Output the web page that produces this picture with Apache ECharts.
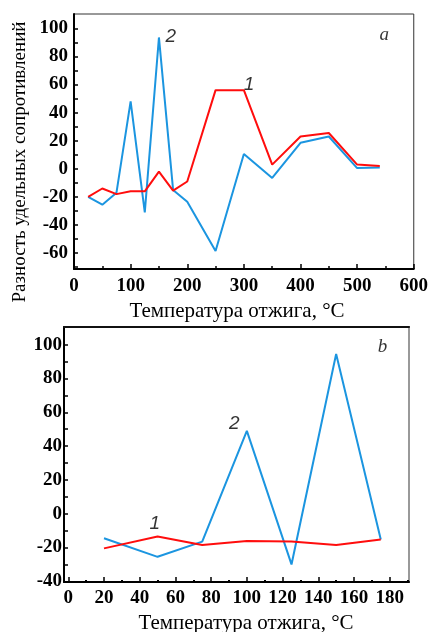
<!DOCTYPE html>
<html>
<head>
<meta charset="utf-8">
<script src="https://cdn.jsdelivr.net/npm/echarts@6/dist/echarts.min.js"></script>
<style>
  html, body { margin: 0; padding: 0; background: #fff; }
  #chart { width: 431px; height: 632px; }
</style>
</head>
<body>
<div id="chart"></div>
<script>
// panel a
var tempA = [25, 50, 75, 100, 125, 150, 175, 200, 250, 300, 350, 400, 450, 500, 540];
var curve1A = [-20, -14, -18, -16, -16, -2, -15.5, -9, 56, 56, 3, 23, 25.5, 3, 2];
var curve2A = [-20, -25.5, -17, 48, -31, 93.5, -15, -23.5, -58.5, 10.5, -6.5, 18.5, 23, 0.5, 1];
var labelsA = [[171, 94, '2'], [309, 60, '1']];
var letterA = [[548, 95, 'a']];

// panel b
var tempB = [20, 50, 75, 100, 125, 150, 175];
var curve1B = [-20.5, -13.5, -18.5, -16.2, -16.4, -18.5, -15.2];
var curve2B = [-14.5, -25.5, -16.5, 49, -30, 94.5, -15.2];
var labelsB = [[48.5, -6, '1'], [93, 53.5, '2']];
var letterB = [[176, 98.5, 'b']];

var yTicksA = [-60, -40, -20, 0, 20, 40, 60, 80, 100];
var yMinorA = [-70, -50, -30, -10, 10, 30, 50, 70, 90];
var yTicksB = [-40, -20, 0, 20, 40, 60, 80, 100];
var yMinorB = [-30, -10, 10, 30, 50, 70, 90];
var xTicksB = [0, 20, 40, 60, 80, 100, 120, 140, 160, 180];
var xMinorB = [10, 30, 50, 70, 90, 110, 130, 150, 170, 190];

function zip(xs, ys) {
    var out = [];
    for (var i = 0; i < xs.length; i++) out.push([xs[i], ys[i]]);
    return out;
}

var tickFont = { color: '#000', fontFamily: '"Liberation Serif", serif', fontWeight: 'bold', fontSize: 19 };
var titleFont = { fill: '#000', fontFamily: '"Liberation Serif", serif' };

function textSeries(xi, yi, data, font, size) {
    return {
        type: 'scatter', xAxisIndex: xi, yAxisIndex: yi, symbolSize: 0, silent: true,
        data: data.map(function (d) { return { value: [d[0], d[1]], name: d[2] }; }),
        label: { show: true, position: 'inside', formatter: '{b}', color: '#000',
                 fontFamily: font, fontStyle: 'italic', fontSize: size }
    };
}

var lineStyle = function (c) { return { width: 2, color: c }; };
var axisLineBlack = { show: true, onZero: false, lineStyle: { color: '#000', width: 2 } };
var tickStyle = { color: '#000', width: 1.5 };

var chart = echarts.init(document.getElementById('chart'));
chart.setOption({
    backgroundColor: '#fff',
    animation: false,
    grid: [
        { left: 74, right: 16, top: 14, bottom: 363, show: true, borderColor: '#333', borderWidth: 1 },
        { left: 64, right: 22, top: 327, bottom: 50, show: true, borderColor: '#999', borderWidth: 2 }
    ],
    xAxis: [
        { gridIndex: 0, type: 'value', min: 0, max: 600, interval: 100, position: 'bottom',
          axisLine: axisLineBlack,
          axisTick: { show: true, inside: true, length: 5, lineStyle: tickStyle },
          minorTick: { show: true, splitNumber: 2, length: 3, lineStyle: tickStyle },
          splitLine: { show: false },
          axisLabel: Object.assign({ margin: 8 }, tickFont) },
        { gridIndex: 1, type: 'value', min: -2.4, max: 190.8, position: 'bottom',
          axisLine: axisLineBlack,
          axisTick: { show: true, inside: true, length: 5, customValues: xTicksB, lineStyle: tickStyle },
          splitLine: { show: false },
          axisLabel: Object.assign({ margin: 7, customValues: xTicksB }, tickFont) },
        { gridIndex: 1, type: 'value', min: -2.4, max: 190.8, position: 'bottom',
          axisLine: { show: false, onZero: false },
          axisTick: { show: true, inside: true, length: 2, customValues: xMinorB, lineStyle: { color: '#000', width: 2 } },
          splitLine: { show: false }, axisLabel: { show: false } },
        { gridIndex: 1, type: 'value', min: -2.4, max: 190.8, position: 'top',
          axisLine: { show: true, onZero: false, lineStyle: { color: '#111', width: 2 } },
          axisTick: { show: false }, splitLine: { show: false }, axisLabel: { show: false } }
    ],
    yAxis: [
        { gridIndex: 0, type: 'value', min: -71.3, max: 110.2, position: 'left',
          axisLine: axisLineBlack,
          axisTick: { show: true, inside: true, length: 4, customValues: yTicksA, lineStyle: tickStyle },
          splitLine: { show: false },
          axisLabel: Object.assign({ margin: 6, customValues: yTicksA }, tickFont) },
        { gridIndex: 0, type: 'value', min: -71.3, max: 110.2, position: 'left',
          axisLine: { show: false, onZero: false },
          axisTick: { show: true, inside: true, length: 4, customValues: yMinorA, lineStyle: tickStyle },
          splitLine: { show: false }, axisLabel: { show: false } },
        { gridIndex: 1, type: 'value', min: -40.4, max: 110.5, position: 'left',
          axisLine: axisLineBlack,
          axisTick: { show: true, inside: true, length: 4, customValues: yTicksB, lineStyle: tickStyle },
          splitLine: { show: false },
          axisLabel: Object.assign({ margin: 2, customValues: yTicksB }, tickFont) },
        { gridIndex: 1, type: 'value', min: -40.4, max: 110.5, position: 'left',
          axisLine: { show: false, onZero: false },
          axisTick: { show: true, inside: true, length: 4, customValues: yMinorB, lineStyle: tickStyle },
          splitLine: { show: false }, axisLabel: { show: false } }
    ],
    series: [
        { type: 'line', xAxisIndex: 0, yAxisIndex: 0, data: zip(tempA, curve2A), showSymbol: false, lineStyle: lineStyle('#1b95e0') },
        { type: 'line', xAxisIndex: 0, yAxisIndex: 0, data: zip(tempA, curve1A), showSymbol: false, lineStyle: lineStyle('#ff0d0d') },
        { type: 'line', xAxisIndex: 1, yAxisIndex: 2, data: zip(tempB, curve2B), showSymbol: false, lineStyle: lineStyle('#1b95e0') },
        { type: 'line', xAxisIndex: 1, yAxisIndex: 2, data: zip(tempB, curve1B), showSymbol: false, lineStyle: lineStyle('#ff0d0d') },
        textSeries(0, 0, labelsA, 'Liberation Sans', 19),
        textSeries(0, 0, letterA, 'Liberation Serif', 19),
        textSeries(1, 2, labelsB, 'Liberation Sans', 19),
        textSeries(1, 2, letterB, 'Liberation Serif', 19)
    ],
    graphic: [
        { type: 'text', x: 20, y: 162, rotation: Math.PI / 2,
          style: Object.assign({ text: 'Разность удельных сопротивлений', textAlign: 'center', textVerticalAlign: 'middle', fontSize: 19 }, titleFont) },
        { type: 'text', x: 237, y: 311,
          style: Object.assign({ text: 'Температура отжига, °C', textAlign: 'center', textVerticalAlign: 'middle', fontSize: 21 }, titleFont) },
        { type: 'text', x: 246, y: 623,
          style: Object.assign({ text: 'Температура отжига, °C', textAlign: 'center', textVerticalAlign: 'middle', fontSize: 21 }, titleFont) }
    ]
});
</script>
</body>
</html>
